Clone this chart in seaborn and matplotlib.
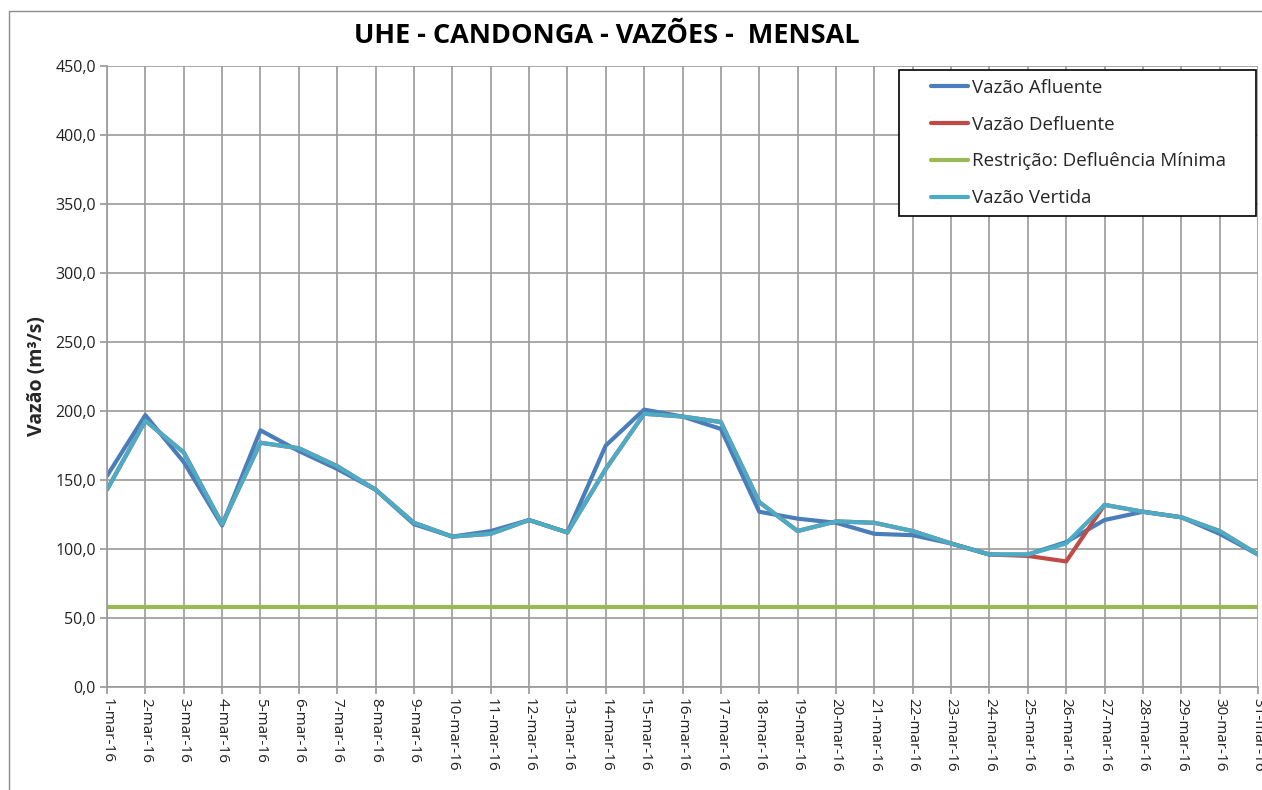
import matplotlib
matplotlib.use("Agg")
import matplotlib.pyplot as plt
import seaborn as sns
import pandas as pd
from matplotlib.patches import Rectangle

dias = ["1-mar-16", "2-mar-16", "3-mar-16", "4-mar-16", "5-mar-16", "6-mar-16",
        "7-mar-16", "8-mar-16", "9-mar-16", "10-mar-16", "11-mar-16", "12-mar-16",
        "13-mar-16", "14-mar-16", "15-mar-16", "16-mar-16", "17-mar-16", "18-mar-16",
        "19-mar-16", "20-mar-16", "21-mar-16", "22-mar-16", "23-mar-16", "24-mar-16",
        "25-mar-16", "26-mar-16", "27-mar-16", "28-mar-16", "29-mar-16", "30-mar-16",
        "31-mar-16"]
afluente = [153, 197, 163, 117, 186, 171, 158, 143, 118, 109, 113, 121, 112, 175, 201,
            196, 187, 127, 122, 119, 111, 110, 104, 96, 96, 105, 121, 127, 123, 111, 96]
defluente = [143, 193, 170, 118, 177, 173, 160, 143, 119, 109, 111, 121, 112, 158, 198,
             196, 192, 134, 113, 120, 119, 113, 104, 96, 95, 91, 132, 127, 123, 113, 96]
restricao = [58] * 31
vertida = [143, 193, 170, 118, 177, 173, 160, 143, 119, 109, 111, 121, 112, 158, 198,
           196, 192, 134, 113, 120, 119, 113, 104, 96, 96, 104, 132, 127, 123, 113, 96]

series = [("Vazão Afluente", afluente, "#4A7EBB"),
          ("Vazão Defluente", defluente, "#BE4B48"),
          ("Restrição: Defluência Mínima", restricao, "#98B954"),
          ("Vazão Vertida", vertida, "#4BACC6")]

sns.set_theme(style="white")
plt.rcParams['font.family'] = ['Open Sans', 'DejaVu Sans']

W, H = 1262, 790
fig = plt.figure(figsize=(W / 100, H / 100), dpi=100)
fig.patch.set_facecolor("white")
fig.patches.append(Rectangle((9 / W, -0.05), 1.2, 1 - 11 / H + 0.05,
                             transform=fig.transFigure, fill=False,
                             edgecolor="#8c8c8c", linewidth=1.0))
ax = fig.add_axes([107 / W, 103 / H, 1151 / W, 621 / H])

x = list(range(len(dias)))
for name, vals, col in series:
    df = pd.DataFrame({"x": x, "y": vals})
    sns.lineplot(data=df, x="x", y="y", ax=ax, color=col, linewidth=3.0,
                 label=name, solid_capstyle="round")

ax.set_xlim(0, len(dias) - 1)
ax.set_ylim(0, 450)
ax.set_xticks(x)
ax.set_xticklabels(dias, rotation=-90, fontsize=11, color="#222222")
yt = list(range(0, 451, 50))
ax.set_yticks(yt)
ax.set_yticklabels([f"{v:.1f}".replace(".", ",") for v in yt], fontsize=11.5,
                   color="#222222")
ax.grid(True, color="#9a9a9a", linewidth=1.2)
ax.set_axisbelow(True)
for s in ["top", "right"]:
    ax.spines[s].set_visible(False)
for s in ["left", "bottom"]:
    ax.spines[s].set_color("#9a9a9a")
    ax.spines[s].set_linewidth(1.2)
ax.tick_params(axis="both", which="major", length=5, color="#9a9a9a",
               direction="out", bottom=True, left=True, pad=3)
ax.set_xlabel("")
ax.set_ylabel("Vazão (m³/s)", fontsize=14, fontweight="bold", labelpad=6)

fig.text(607 / W, 1 - 36 / H, "UHE - CANDONGA - VAZÕES -  MENSAL", ha="center",
         va="center", fontsize=19.5, fontweight="bold", color="black")

# legend frame
ax.add_patch(Rectangle((899 / W, 1 - 216 / H), 357 / W, 146 / H,
                       transform=fig.transFigure, facecolor="white",
                       edgecolor="black", linewidth=1.2, zorder=6,
                       clip_on=False))
leg = ax.legend(loc="upper left", bbox_to_anchor=(931 / W, 1 - 79 / H),
                bbox_transform=fig.transFigure,
                fontsize=13.5, frameon=False, handlelength=1.97,
                handletextpad=0.2, labelspacing=1.0, borderpad=0,
                borderaxespad=0)
leg.set_zorder(10)
for ln in leg.get_lines():
    ln.set_linewidth(3.0)

fig.savefig("out.png", dpi=100, facecolor="white")
